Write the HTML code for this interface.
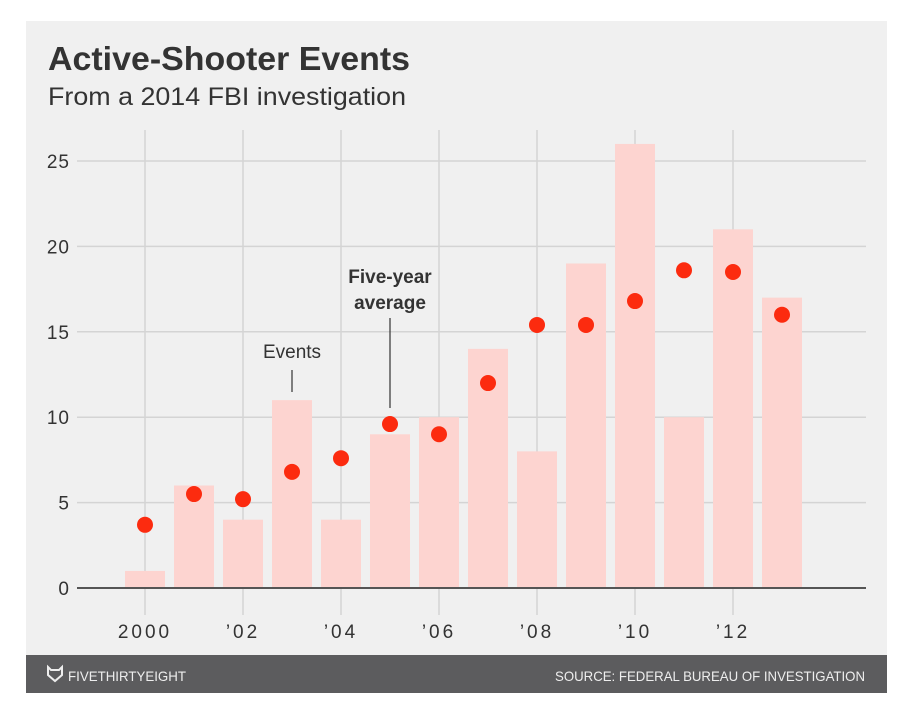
<!DOCTYPE html>
<html><head><meta charset="utf-8"><style>
body{margin:0;background:#fff;width:902px;height:715px;overflow:hidden;font-family:"Liberation Sans",sans-serif}
</style></head><body>
<svg width="902" height="715" id="c">
<rect x="26" y="21" width="861" height="634" fill="#f0f0f0"/>
<text x="48" y="70" font-size="33" font-weight="bold" fill="#333" textLength="362" lengthAdjust="spacingAndGlyphs">Active-Shooter Events</text>
<text x="48" y="105" font-size="25" fill="#333" textLength="358" lengthAdjust="spacingAndGlyphs">From a 2014 FBI investigation</text>
<g id="grid"></g><g id="bars"></g><g id="dots"></g>
<text x="292" y="358" font-size="19" fill="#333" text-anchor="middle">Events</text>
<line x1="292" y1="370" x2="292" y2="392" stroke="#333" stroke-width="1.2"/>
<text x="390" y="283" font-size="19" font-weight="bold" fill="#333" text-anchor="middle">Five-year</text>
<text x="390" y="309" font-size="19" font-weight="bold" fill="#333" text-anchor="middle">average</text>
<line x1="390" y1="318" x2="390" y2="408" stroke="#333" stroke-width="1.2"/>
<rect x="26" y="655" width="861" height="38" fill="#5c5c5e"/>
<path d="M48 667 l3 3 h8 l3 -3 v8 l-7 6 l-7 -6z" fill="none" stroke="#eee" stroke-width="2"/>
<text x="68" y="681" font-size="14" fill="#eee" textLength="118" lengthAdjust="spacingAndGlyphs">FIVETHIRTYEIGHT</text>
<text x="555" y="681" font-size="14" fill="#eee" textLength="310" lengthAdjust="spacingAndGlyphs">SOURCE: FEDERAL BUREAU OF INVESTIGATION</text>
</svg>
<script>
const years=[2000,2001,2002,2003,2004,2005,2006,2007,2008,2009,2010,2011,2012,2013];
const events=[1,6,4,11,4,9,10,14,8,19,26,10,21,17];
const averages=[3.7,5.5,5.2,6.8,7.6,9.6,9.0,12.0,15.4,15.4,16.8,18.6,18.5,16.0];
const yTicks=[0,5,10,15,20,25];
const xTickLabels=["2000","’02","’04","’06","’08","’10","’12"];
const NS="http://www.w3.org/2000/svg";
const x=v=>145+(v-2000)*49;
const y=v=>588-v*17.08;
function mk(t,a,p){const e=document.createElementNS(NS,t);for(const k in a)e.setAttribute(k,a[k]);p.appendChild(e);return e;}
const g=document.getElementById('grid'),b=document.getElementById('bars'),d=document.getElementById('dots');
yTicks.forEach(t=>{
 const l=mk('line',{x1:77,x2:866,y1:y(t),y2:y(t),stroke:t==0?'#555':'#d4d4d4','stroke-width':t==0?2:1.5},g);
 
 
 const tx=mk('text',{x:70,y:y(t)+7,'font-size':19,fill:'#333','text-anchor':'end','letter-spacing':1},g);tx.textContent=t;
 
 
});
xTickLabels.forEach((s,i)=>{
 const xv=x(2000+i*2);
 const l=mk('line',{x1:xv,x2:xv,y1:130,y2:615,stroke:'#d4d4d4','stroke-width':1.5},g);
 
 
 const tx=mk('text',{x:xv,y:638,'font-size':19,fill:'#333','text-anchor':'middle','letter-spacing':3},g);tx.textContent=s;
 
 
});
years.forEach((yr,i)=>{
 const r=mk('rect',{x:x(yr)-20,y:y(events[i]),width:40,height:y(0)-y(events[i])-1,fill:'#fdd4d0'},b);
 
 
 const c=mk('circle',{cx:x(yr),cy:y(averages[i]),r:8,fill:'#fc2b0f'},d);
 
 
});
g.appendChild(g.firstChild);
</script>
</body></html>
